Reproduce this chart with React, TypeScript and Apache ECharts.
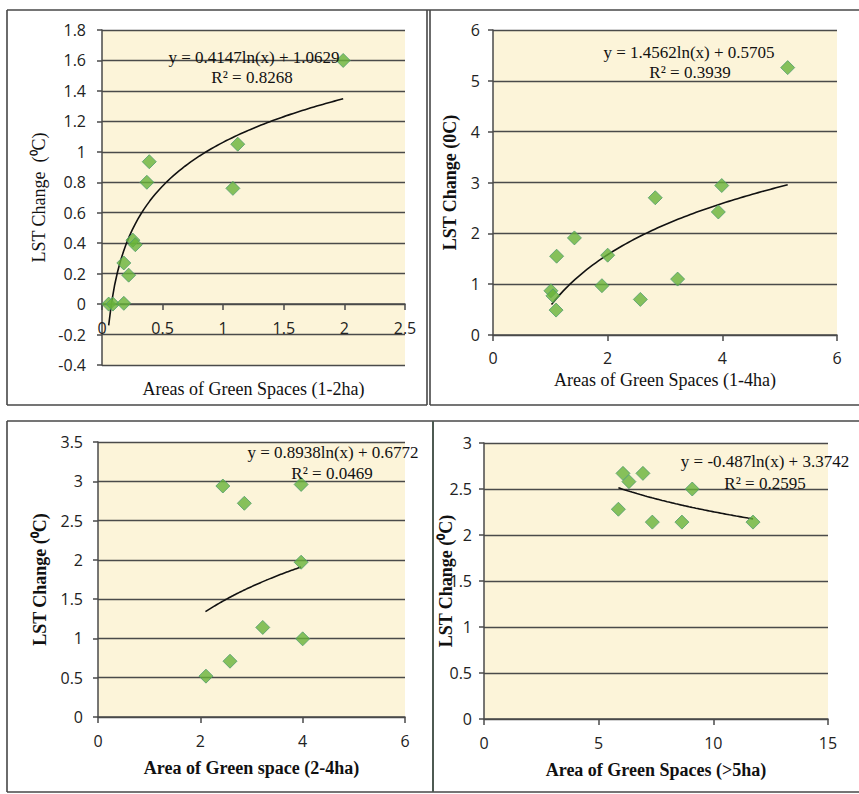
import { useEffect, useRef } from "react";
import * as echarts from "echarts";

// ---- Data ----
const tlArea = [0.055, 0.09, 0.18, 0.18, 0.22, 0.255, 0.275, 0.39, 0.37, 1.08, 1.12, 1.99];
const tlLst = [0, 0, 0.005, 0.27, 0.19, 0.42, 0.39, 0.935, 0.8, 0.76, 1.05, 1.6];

const trArea = [1.01, 1.045, 1.1, 1.11, 1.42, 2.0, 1.9, 2.57, 2.83, 3.22, 3.93, 3.99, 5.14];
const trLst = [0.87, 0.77, 0.49, 1.55, 1.91, 1.57, 0.97, 0.7, 2.7, 1.1, 2.42, 2.94, 5.26];

const blArea = [2.11, 2.58, 2.44, 2.86, 3.22, 3.97, 3.97, 4.0];
const blLst = [0.52, 0.71, 2.94, 2.72, 1.14, 2.96, 1.97, 0.995];

const brArea = [5.86, 6.06, 6.32, 6.93, 7.34, 8.63, 9.08, 11.73];
const brLst = [2.28, 2.67, 2.58, 2.67, 2.14, 2.14, 2.5, 2.14];

// Logarithmic trendlines shown on the chart: y = a ln(x) + b
const trendSlope = [0.4147, 1.4562, 0.8938, -0.487];
const trendIntercept = [1.0629, 0.5705, 0.6772, 3.3742];
const trendFrom = [0.055, 1.02, 2.1, 5.86];
const trendTo = [1.99, 5.14, 3.97, 11.73];

const equations = [
  "y = 0.4147ln(x) + 1.0629",
  "y = 1.4562ln(x) + 0.5705",
  "y = 0.8938ln(x) + 0.6772",
  "y = -0.487ln(x) + 3.3742",
];
const rSquared = ["R² = 0.8268", "R² = 0.3939", "R² = 0.0469", "R² = 0.2595"];

const xTitles = [
  "Areas of Green Spaces (1-2ha)",
  "Areas of Green Spaces (1-4ha)",
  "Area of Green space (2-4ha)",
  "Area of Green Spaces (>5ha)",
];
const yTitles = ["LST Change  (⁰C)", "LST Change (0C)", "LST Change (⁰C)", "LST Change (⁰C)"];

const xMins = [0, 0, 0, 0];
const xMaxs = [2.5, 6, 6, 15];
const xSteps = [0.5, 2, 2, 5];
const yMins = [-0.4, 0, 0, 0];
const yMaxs = [1.8, 6, 3.5, 3];
const ySteps = [0.2, 1, 0.5, 0.5];

const areas = [tlArea, trArea, blArea, brArea];
const lsts = [tlLst, trLst, blLst, brLst];

// ---- Layout ----
const grids = [
  { left: 102, top: 30, width: 303, height: 335 },
  { left: 493, top: 30, width: 344, height: 305 },
  { left: 98, top: 442, width: 307, height: 275 },
  { left: 484, top: 443, width: 344, height: 276 },
];
const xBold = [false, false, true, true];
const yBold = [false, true, true, true];
const xNameGaps = [76, 36, 42, 42];
const yNameGaps = [54, 34, 49, 29];
const yLabelMargins = [16, 13, 15, 12];
const xLabelMargins = [16, 15, 16, 16];
const eqPos = [
  [254, 57, 252, 77],
  [689, 52, 690, 72],
  [333, 452, 332, 473],
  [765, 461, 765, 483],
];

const SERIF = '"Liberation Serif", "Times New Roman", serif';
const SANS = '"Open Sans", "Liberation Sans", sans-serif';
const GRID_COLOR = "#4a4a4a";
const FRAME = "#474747";

function trendPoints(i: number): number[][] {
  const pts: number[][] = [];
  const n = 80;
  for (let k = 0; k <= n; k++) {
    const x = trendFrom[i] + ((trendTo[i] - trendFrom[i]) * k) / n;
    pts.push([x, trendSlope[i] * Math.log(x) + trendIntercept[i]]);
  }
  return pts;
}

export default function App() {
  const ref = useRef<HTMLDivElement>(null);
  useEffect(() => {
    if (!ref.current) return;
    const chart = echarts.init(ref.current, undefined, { renderer: "svg" });

    const line = (x1: number, y1: number, x2: number, y2: number, color = FRAME, w = 1.6) => ({
      type: "line",
      shape: { x1, y1, x2, y2 },
      style: { stroke: color, lineWidth: w },
      silent: true,
    });

    const graphics: any[] = [
      line(7, 10, 859, 10),
      line(7, 10, 7, 405),
      line(427, 10, 427, 405),
      line(7, 405, 427, 405),
      line(430, 10, 430, 405),
      line(430, 405, 859, 405),
      line(7, 421, 859, 421),
      line(7, 421, 7, 792),
      line(7, 792, 859, 792),
      line(433, 421, 433, 792, "#4d5a52", 2),
    ];
    eqPos.forEach((p, i) => {
      graphics.push({
        type: "text",
        x: p[0],
        y: p[1],
        style: {
          text: equations[i],
          align: "center",
          verticalAlign: "middle",
          fontFamily: SERIF,
          fontSize: 17,
          fill: "#111",
        },
        z: 100,
      });
      graphics.push({
        type: "text",
        x: p[2],
        y: p[3],
        style: {
          text: rSquared[i],
          align: "center",
          verticalAlign: "middle",
          fontFamily: SERIF,
          fontSize: 17,
          fill: "#111",
        },
        z: 100,
      });
    });

    const option: any = {
      animation: false,
      backgroundColor: "#ffffff",
      grid: grids.map((g) => ({
        ...g,
        show: true,
        backgroundColor: "#fcf4d9",
        borderWidth: 0,
      })),
      xAxis: grids.map((g, i) => ({
        type: "value",
        gridIndex: i,
        min: xMins[i],
        max: xMaxs[i],
        interval: xSteps[i],
        // place the x axis line on y = 0
        offset: -((0 - yMins[i]) / (yMaxs[i] - yMins[i])) * g.height,
        name: xTitles[i],
        nameLocation: "middle",
        nameGap: xNameGaps[i],
        nameMoveOverlap: false,
        nameTextStyle: {
          fontFamily: SERIF,
          fontSize: 18,
          fontWeight: xBold[i] ? "bold" : "normal",
          color: "#111",
        },
        axisLine: { show: true, onZero: false, lineStyle: { color: GRID_COLOR, width: 1.5 } },
        axisTick: { show: true, inside: false, length: 6, lineStyle: { color: GRID_COLOR, width: 1.5 } },
        axisLabel: { fontFamily: SANS, fontSize: 16, color: "#222", margin: xLabelMargins[i] },
        splitLine: { show: false },
      })),
      yAxis: grids.map((_, i) => ({
        type: "value",
        gridIndex: i,
        min: yMins[i],
        max: yMaxs[i],
        interval: ySteps[i],
        name: yTitles[i],
        nameLocation: "middle",
        nameGap: yNameGaps[i],
        nameRotate: 90,
        nameMoveOverlap: false,
        nameTextStyle: {
          fontFamily: SERIF,
          fontSize: 18,
          fontWeight: yBold[i] ? "bold" : "normal",
          color: "#111",
        },
        axisLine: { show: true, onZero: false, lineStyle: { color: GRID_COLOR, width: 1.5 } },
        axisTick: { show: true, inside: false, length: 5, lineStyle: { color: GRID_COLOR, width: 1.5 } },
        axisLabel: { fontFamily: SANS, fontSize: 16, color: "#222", margin: yLabelMargins[i] },
        splitLine: { show: true, lineStyle: { color: GRID_COLOR, width: 1.4 } },
      })),
      series: [
        ...areas.map((a, i) => ({
          type: "line",
          xAxisIndex: i,
          yAxisIndex: i,
          data: trendPoints(i),
          showSymbol: false,
          symbol: "none",
          lineStyle: { color: "#111", width: 1.6 },
          z: 3,
        })),
        ...areas.map((a, i) => ({
          type: "scatter",
          xAxisIndex: i,
          yAxisIndex: i,
          data: a.map((x, k) => [x, lsts[i][k]]),
          symbol: "diamond",
          symbolSize: 14,
          itemStyle: { color: "#68b33a", borderColor: "#4f9c6e", borderWidth: 1 },
          z: 4,
        })),
      ],
      graphic: graphics,
    };
    chart.setOption(option);
    return () => chart.dispose();
  }, []);

  return (
    <div
      ref={ref}
      style={{ position: "fixed", left: 0, top: 0, width: 859, height: 794, background: "#fff" }}
    />
  );
}
